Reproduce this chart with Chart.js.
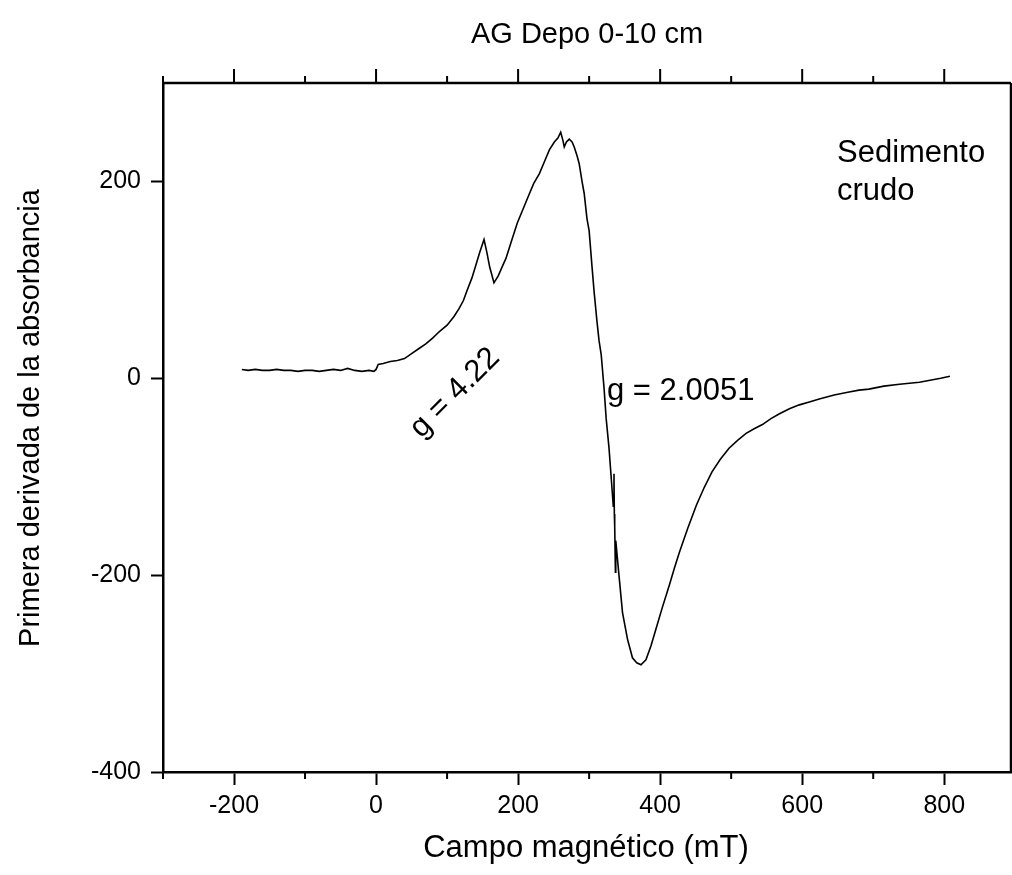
<!DOCTYPE html>
<html>
<head>
<meta charset="utf-8">
<script src="https://cdn.jsdelivr.net/npm/chart.js@4.4.0/dist/chart.umd.min.js"></script>
<style>
html,body{margin:0;padding:0;background:#fff;}
canvas{display:block;}
</style>
</head>
<body>
<canvas id="c" width="1012" height="875"></canvas>
<script>
// ---- Data ----
const fieldValues = [
 -189,-180,-170,-160,-150,-140,-130,-120,-110,-100,-90,-80,-70,-60,-50,-40,-30,-20,-10,-3,
 0,3,10,20,30,40,50,60,70,80,90,100,110,117,123,128,135,141,146,152,156,160,166,172,178,183,190,199,
 207,215,222,230,237,244,251,256,260,263,265,268,272,276,279,283,286,290,293,297,300,304,307,311,314,317,
 321,324,328,332,334,335,335.5,336,337,337.5,342,347,354,361,367,373,380,387,394,403,413,420,427,439,451,
 462,473,485,497,509,521,533,544,556,568,582,596,610,624,645,666,680,694,715,737,751,765,780,795,808
];
const signalValues = [
 9,8,9,8,8,9,8,8,7,8,8,7,8,9,8,10,8,7,8,7,
 9,14,15,17,18,20,25,30,35,41,48,54,63,71,79,89,102,116,128,141,128,113,97,104,114,122,138,158,
 172,186,198,208,220,232,240,244,250,242,235,240,243,240,235,226,218,200,188,162,150,114,88,58,38,24,
 -10,-41,-71,-110,-130,-97,-138,-150,-197,-165,-200,-238,-265,-284,-289,-291,-286,-272,-255,-233,-210,-193,-177,-152,-129,
 -111,-95,-82,-71,-63,-56,-51,-47,-41,-36,-31,-27,-24,-21,-17,-14,-12,-11,-8,-6,-5,-4,-2,0,2
];
const xMajorTicks = [-200, 0, 200, 400, 600, 800];
const xMinorTicks = [-300, -100, 100, 300, 500, 700];
const yMajorTicks = [-400, -200, 0, 200];

const titleText = "AG Depo 0-10 cm";
const xTitleText = "Campo magnético (mT)";
const yTitleText = "Primera derivada de la absorbancia";

const FONT = "'Liberation Sans', Arial, sans-serif";

const points = fieldValues.map((x, i) => ({x: x, y: signalValues[i]}));

const framePlugin = {
  id: 'frame',
  afterDraw(chart) {
    const ctx = chart.ctx;
    const a = chart.chartArea;
    const xs = chart.scales.x;
    ctx.save();
    ctx.strokeStyle = '#000';
    ctx.lineWidth = 2.5;
    ctx.beginPath();
    ctx.moveTo(a.left - 1, a.top); ctx.lineTo(a.right, a.top);
    ctx.moveTo(a.right, a.top); ctx.lineTo(a.right, a.bottom);
    ctx.stroke();
    ctx.lineWidth = 2;
    ctx.beginPath();
    xMinorTicks.forEach(v => {
      const px = xs.getPixelForValue(v);
      ctx.moveTo(px, a.bottom); ctx.lineTo(px, a.bottom + 7);
      ctx.moveTo(px, a.top); ctx.lineTo(px, a.top - 7);
    });
    xMajorTicks.forEach(v => {
      const px = xs.getPixelForValue(v);
      ctx.moveTo(px, a.top); ctx.lineTo(px, a.top - 14);
    });
    ctx.stroke();

    ctx.fillStyle = '#000';
    ctx.textAlign = 'center';
    ctx.textBaseline = 'alphabetic';
    ctx.font = '29px ' + FONT;
    ctx.fillText(titleText, 587, 43);
    ctx.font = '31px ' + FONT;
    ctx.fillText(xTitleText, 586, 857);
    ctx.save();
    ctx.translate(39, 418);
    ctx.rotate(-Math.PI / 2);
    ctx.font = '29px ' + FONT;
    ctx.fillText(yTitleText, 0, 0);
    ctx.restore();

    ctx.textAlign = 'left';
    ctx.font = '31px ' + FONT;
    ctx.fillText('Sedimento', 837, 162);
    ctx.fillText('crudo', 837, 200);
    ctx.fillText('g = 2.0051', 607, 400);

    ctx.save();
    ctx.translate(455, 393);
    ctx.rotate(-Math.PI / 4);
    ctx.textAlign = 'center';
    ctx.textBaseline = 'middle';
    ctx.fillText('g = 4.22', 0, 0);
    ctx.restore();
    ctx.restore();
  }
};

new Chart(document.getElementById('c'), {
  type: 'scatter',
  data: {
    datasets: [{
      data: points,
      showLine: true,
      borderColor: '#000',
      borderWidth: 1.6,
      pointRadius: 0,
      tension: 0,
      fill: false
    }]
  },
  options: {
    responsive: false,
    animation: false,
    layout: {padding: {top: 83, right: 1, left: 0, bottom: 0}},
    plugins: {legend: {display: false}, tooltip: {enabled: false}, title: {display: false}},
    scales: {
      x: {
        type: 'linear',
        min: -300, max: 894,
        afterBuildTicks: s => { s.ticks = xMajorTicks.map(v => ({value: v})); },
        afterFit: s => { s.height = 103; },
        grid: {display: true, drawOnChartArea: false, drawTicks: true, tickLength: 13, tickWidth: 2, tickColor: '#000'},
        border: {display: true, color: '#000', width: 2.5},
        ticks: {color: '#000', font: {family: FONT, size: 25}, padding: 6, maxRotation: 0, autoSkip: false,
                callback: v => String(v)}
      },
      y: {
        type: 'linear',
        min: -400, max: 300,
        afterBuildTicks: s => { s.ticks = yMajorTicks.map(v => ({value: v})); },
        afterFit: s => { s.width = 163; },
        grid: {display: true, drawOnChartArea: false, drawTicks: true, tickLength: 12, tickWidth: 2, tickColor: '#000'},
        border: {display: true, color: '#000', width: 2.5},
        ticks: {color: '#000', font: {family: FONT, size: 25}, padding: 10, autoSkip: false,
                callback: v => String(v)}
      }
    }
  },
  plugins: [framePlugin]
});
</script>
</body>
</html>
